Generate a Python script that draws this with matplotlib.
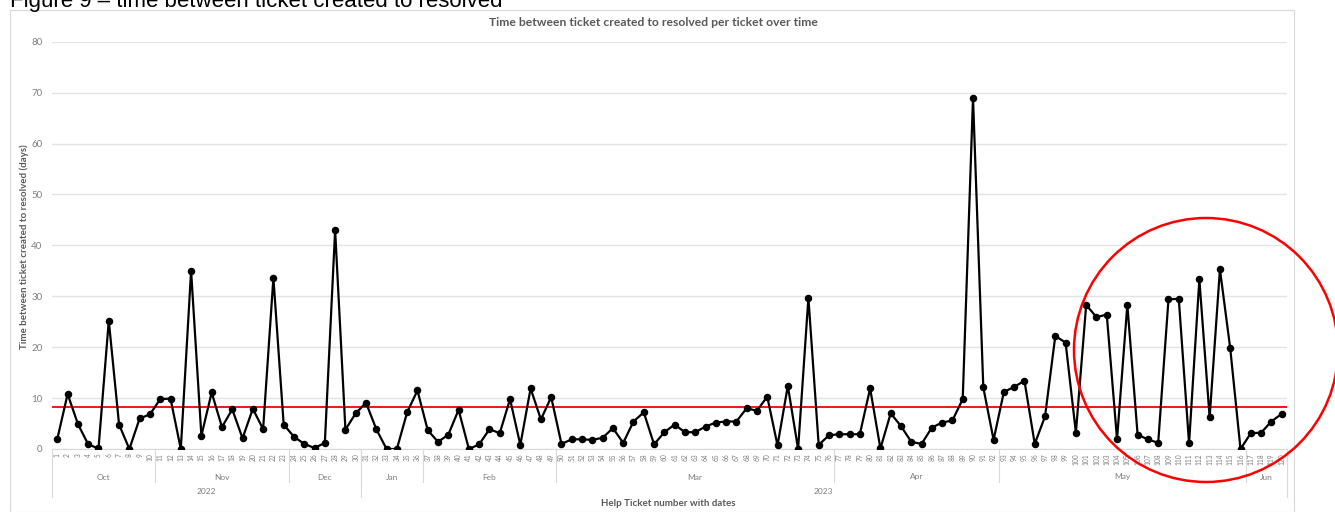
import matplotlib
matplotlib.use("Agg")
import matplotlib.pyplot as plt
import matplotlib.transforms as mtransforms
from matplotlib.patches import Ellipse

# days from ticket created to resolved, tickets 1..120
days = [2.0, 10.8, 4.9, 0.9, 0.1, 25.2, 4.8, 0.0, 6.0, 6.8,
        9.8, 9.9, 0.0, 35.0, 2.6, 11.1, 4.3, 7.8, 2.1, 7.9,
        3.9, 33.6, 4.8, 2.4, 1.0, 0.2, 1.2, 43.0, 3.8, 7.0,
        9.1, 3.9, 0.0, 0.0, 7.2, 11.5, 3.7, 1.4, 2.8, 7.7,
        0.0, 0.9, 3.9, 3.1, 9.8, 0.8, 11.9, 5.8, 10.2, 1.0,
        1.9, 1.9, 1.8, 2.2, 4.1, 1.2, 5.4, 7.2, 0.9, 3.3,
        4.8, 3.3, 3.3, 4.4, 5.2, 5.4, 5.4, 8.0, 7.5, 10.3,
        0.7, 12.4, 0.0, 29.7, 0.8, 2.7, 2.9, 2.9, 2.9, 11.9,
        0.1, 7.0, 4.5, 1.4, 1.0, 4.2, 5.2, 5.6, 9.8, 69.0,
        12.1, 1.8, 11.2, 12.2, 13.4, 1.0, 6.4, 22.2, 20.9, 3.2,
        28.3, 25.9, 26.4, 1.9, 28.3, 2.8, 1.9, 1.2, 29.4, 29.5,
        1.1, 33.3, 6.2, 35.3, 19.8, 0.0, 3.1, 3.2, 5.4, 6.9]
tickets = list(range(1, len(days) + 1))

# month groups: (label, first ticket, last ticket)
months = [("Oct", 1, 10), ("Nov", 11, 23), ("Dec", 24, 30), ("Jan", 31, 36),
          ("Feb", 37, 49), ("Mar", 50, 76), ("Apr", 77, 92), ("May", 93, 116),
          ("Jun", 117, 120)]
years = [("2022", 1, 30), ("2023", 31, 120)]

# red average line
avg_days = 8.2

W, H = 1335, 512
fig = plt.figure(figsize=(W / 100, H / 100), dpi=100)
fig.patch.set_facecolor("white")

# caption above the chart, cut off at the top like the screenshot
fig.text(10 / W, 1 - 7.5 / H, "Figure 9 \u2013 time between ticket created to resolved",
         fontsize=16, family="Liberation Sans", color="black", va="baseline", ha="left")

# chart frame
frame = plt.Rectangle((10 / W, 0), (1294 - 10) / W, 1 - 10 / H, transform=fig.transFigure,
                      fill=False, edgecolor="#d9d9d9", linewidth=0.8)
fig.patches.append(frame)

ax = fig.add_axes([52.2 / W, 1 - 449 / H, (1286.8 - 52.2) / W, (449 - 41.7) / H])
ax.set_xlim(0.5, len(days) + 0.5)
ax.set_ylim(0, 80)

ax.yaxis.grid(True, color="#e3e3e3", linewidth=1.0)
ax.set_axisbelow(True)
for s in ["top", "right", "left"]:
    ax.spines[s].set_visible(False)
ax.spines["bottom"].set_color("#d9d9d9")

ax.plot(tickets, days, color="black", linewidth=1.6, marker="o", markersize=4.4, zorder=3)
ax.axhline(avg_days, color="#ff0000", linewidth=1.3, zorder=2)

ax.set_yticks(range(0, 81, 10))
ax.tick_params(axis="y", length=0, pad=7, labelsize=7, labelcolor="#7f7f7f")
for lbl in ax.get_yticklabels():
    lbl.set_family("Lato")

ax.set_xticks(tickets)
ax.set_xticklabels([str(t) for t in tickets], rotation=90, fontsize=4.8,
                   color="#7f7f7f", family="Lato")
ax.tick_params(axis="x", length=0, pad=3)

# multi-level category axis: months then years
tr = mtransforms.blended_transform_factory(ax.transData, ax.transAxes)
plot_h = 449 - 41.7
for name, a, b in months:
    ax.text((a + b) / 2, -(477 - 449) / plot_h, name, transform=tr, ha="center", va="center",
            fontsize=6, color="#7f7f7f", family="Lato")
    if a > 1:
        ax.plot([a - 0.5, a - 0.5], [0, -(482 - 449) / plot_h], transform=tr,
                color="#d9d9d9", linewidth=0.8, clip_on=False)
for name, a, b in years:
    ax.text((a + b) / 2, -(491 - 449) / plot_h, name, transform=tr, ha="center", va="center",
            fontsize=6, color="#7f7f7f", family="Lato")
    ax.plot([a - 0.5, a - 0.5], [0, -(497 - 449) / plot_h], transform=tr,
            color="#d9d9d9", linewidth=0.8, clip_on=False)
ax.plot([len(days) + 0.5] * 2, [0, -(497 - 449) / plot_h], transform=tr,
        color="#d9d9d9", linewidth=0.8, clip_on=False)

fig.text(653 / W, 1 - 23 / H, "Time between ticket created to resolved per ticket over time",
         ha="center", va="center", fontsize=8.7, fontweight="bold", color="#595959",
         family="Lato")
fig.text(668 / W, 1 - 504 / H, "Help Ticket number with dates", ha="center", va="center",
         fontsize=7, fontweight="bold", color="#595959", family="Lato")
fig.text(24 / W, 1 - 247 / H, "Time between ticket created to resolved (days)", ha="center",
         va="center", rotation=90, fontsize=7, fontweight="bold", color="#595959", family="Lato")

# red circle highlighting the last weeks
circle = Ellipse((1206 / W, 1 - 350 / H), 264 / W, 264 / H, transform=fig.transFigure,
                 fill=False, edgecolor="#ff0000", linewidth=1.8, zorder=10)
fig.patches.append(circle)

fig.savefig("out.png", dpi=100, facecolor="white")
